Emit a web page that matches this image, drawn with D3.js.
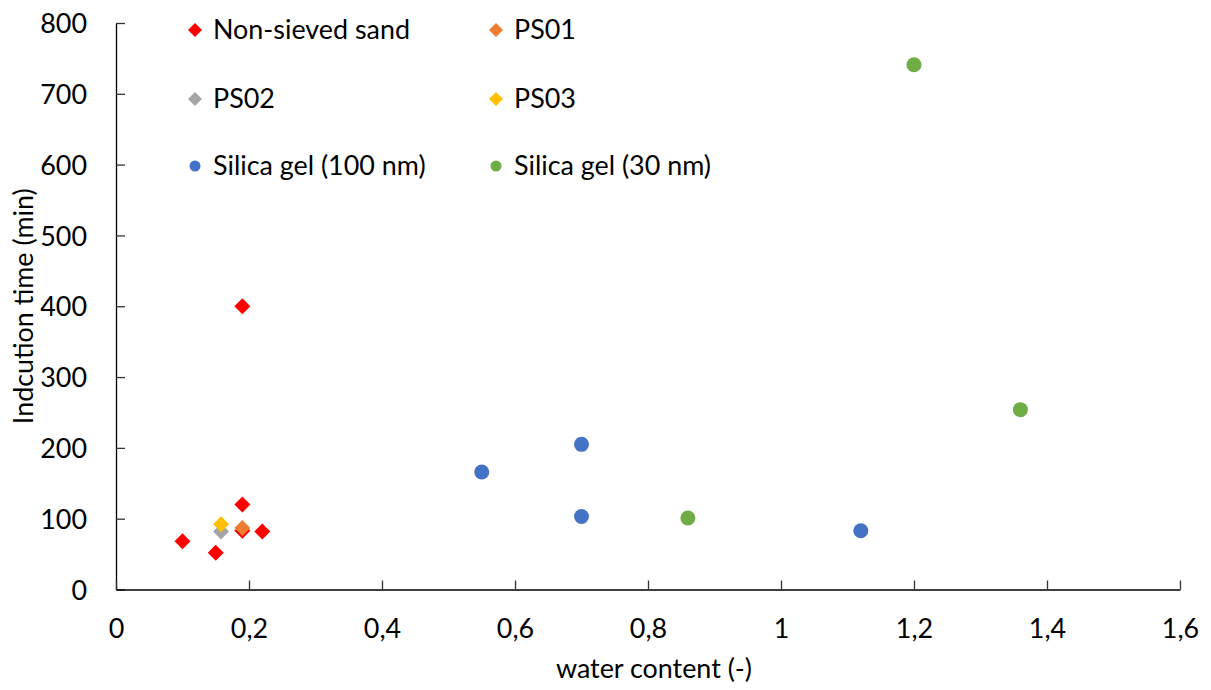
<!DOCTYPE html>
<html><head><meta charset="utf-8">
<script src="https://cdn.jsdelivr.net/npm/d3@7"></script>
<style>
body{margin:0;background:#fff;}
text{font-family:Lato,"Open Sans",sans-serif;fill:#000;}
</style></head>
<body><svg id="c" width="1211" height="690"></svg>
<script>
const xTicks = [0,0.2,0.4,0.6,0.8,1,1.2,1.4,1.6];
const yTicks = [0,100,200,300,400,500,600,700,800];
const seriesNames = ["Non-sieved sand","PS01","PS02","PS03","Silica gel (100 nm)","Silica gel (30 nm)"];
const seriesColors = ["#ff0000","#ed7d31","#a5a5a5","#ffc000","#4472c4","#70ad47"];
const seriesShapes = ["diamond","diamond","diamond","diamond","circle","circle"];
const nonSievedX = [0.10,0.15,0.19,0.19,0.19,0.22];
const nonSievedY = [68,52,400,120,83,82];
const ps01X = [0.19]; const ps01Y = [87];
const ps02X = [0.158]; const ps02Y = [82];
const ps03X = [0.158]; const ps03Y = [92];
const silica100X = [0.55,0.70,0.70,1.12];
const silica100Y = [166,205,103,83];
const silica30X = [0.86,1.20,1.36];
const silica30Y = [101,741,254];

const seriesX = [nonSievedX,ps01X,ps02X,ps03X,silica100X,silica30X];
const seriesY = [nonSievedY,ps01Y,ps02Y,ps03Y,silica100Y,silica30Y];
const drawOrder = [0,2,3,1,4,5];

const svg = d3.select("#c");
const L=116, R=1180, T=23, B=589.5;
const x = d3.scaleLinear().domain([0,1.6]).range([L,R]);
const y = d3.scaleLinear().domain([0,800]).range([B,T]);

const probe = svg.append("text").attr("font-size",26).text("Non-sieved sand");
const w26 = probe.node().getComputedTextLength();
probe.remove();
const fs = Math.max(20, Math.min(30, 26*197/w26));
const capH = fs*0.72;

const ya = svg.append("g").attr("transform",`translate(${L},0)`)
  .call(d3.axisRight(y).tickValues(yTicks).tickSizeInner(9).tickSizeOuter(0).tickFormat(d3.format("d")));
ya.select(".domain").attr("stroke","#000").attr("stroke-width",1.3);
ya.selectAll(".tick line").attr("stroke","#333").attr("stroke-width",1.3);
ya.selectAll(".tick text").attr("font-size",fs).attr("font-family",null).attr("fill","#000")
  .attr("text-anchor","end").attr("x",87-L).attr("dy",null).attr("y",capH/2);
const xa = svg.append("g").attr("transform",`translate(0,${B})`)
  .call(d3.axisBottom(x).tickValues(xTicks).tickSizeInner(-9).tickSizeOuter(0)
    .tickFormat(d=>String(d).replace(".",",")));
xa.select(".domain").attr("stroke","#000").attr("stroke-width",1.3);
xa.selectAll(".tick line").attr("stroke","#333").attr("stroke-width",1.3);
xa.selectAll(".tick text").attr("font-size",fs).attr("font-family",null).attr("fill","#000")
  .attr("dy",null).attr("y",638-B);

svg.append("text").attr("x",654).attr("y",678).attr("text-anchor","middle").attr("font-size",fs).text("water content (-)");
svg.append("text").attr("transform",`translate(33,${(T+B)/2}) rotate(-90)`).attr("text-anchor","middle").attr("font-size",fs).text("Indcution time (min)");

function marker(g, shape, color, cx, cy, half, r){
  if(shape==="diamond"){
    g.append("path").attr("d",`M${cx},${cy-half}L${cx+half},${cy}L${cx},${cy+half}L${cx-half},${cy}Z`).attr("fill",color);
  } else {
    g.append("circle").attr("cx",cx).attr("cy",cy).attr("r",r).attr("fill",color);
  }
}
const pts = svg.append("g");
drawOrder.forEach(i=>{
  seriesX[i].forEach((xv,j)=>marker(pts, seriesShapes[i], seriesColors[i], x(xv), y(seriesY[i][j]), 8, 7.5));
});

const lg = svg.append("g");
const colX = [195,496], rowY=[30,99,166];
seriesNames.forEach((n,i)=>{
  const cx = colX[i%2], cy=rowY[Math.floor(i/2)];
  marker(lg, seriesShapes[i], seriesColors[i], cx, cy, 7, 5.5);
  lg.append("text").attr("x",cx+18).attr("y",cy+9).attr("font-size",fs).text(n);
});
</script></body></html>
